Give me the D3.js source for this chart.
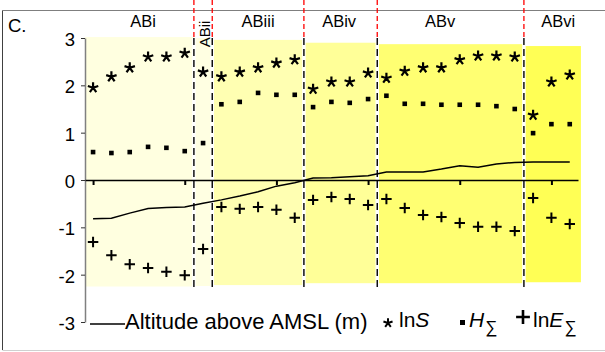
<!DOCTYPE html>
<html><head><meta charset="utf-8">
<script src="https://cdn.jsdelivr.net/npm/d3@7"></script>
<style>body{margin:0;background:#fff}svg{display:block}text{font-family:"Liberation Sans",Arial,sans-serif}</style>
</head><body><svg id="c" width="605" height="352"></svg>
<script>
// ---------- data ----------
const regionNames = ["ABi","ABii","ABiii","ABiv","ABv","ABvi"];
const regionStart = [0, 6, 7, 12, 16, 24];
const regionEnd   = [5, 6, 11, 15, 23, 26];
const regionTop    = [3.02, 3.00, 2.96, 2.90, 2.87, 2.83];
const regionBottom = [-2.25, -2.24, -2.22, -2.18, -2.18, -2.16];
const sampleIndex = d3.range(27);
const lnS = [1.95,2.18,2.37,2.60,2.60,2.68, 2.28, 2.18,2.28,2.37,2.47,2.54, 1.92,2.07,2.07,2.26, 2.15,2.30,2.37,2.37,2.54,2.62,2.62,2.60, 1.37,2.07,2.22];
const H   = [0.59,0.57,0.59,0.70,0.68,0.61, 0.78, 1.60,1.65,1.84,1.80,1.80, 1.54,1.65,1.63,1.71, 1.78,1.61,1.61,1.59,1.59,1.59,1.56,1.50, 0.99,1.18,1.18];
const lnE = [-1.31,-1.59,-1.78,-1.86,-1.94,-2.01, -1.46, -0.57,-0.61,-0.57,-0.63,-0.80, -0.42,-0.36,-0.40,-0.53, -0.40,-0.59,-0.74,-0.78,-0.91,-0.99,-0.99,-1.08, -0.38,-0.80,-0.93];
const altitude = [-0.82,-0.81,-0.70,-0.60,-0.58,-0.57, -0.49, -0.42,-0.34,-0.25,-0.13,-0.06, 0.04,0.05,0.07,0.09, 0.17,0.17,0.17,0.23,0.30,0.27,0.34,0.37, 0.38,0.38,0.38];
const yTicks = [-3,-2,-1,0,1,2,3];
const xTicks = [0,5,10,15,20,25];

// ---------- styles / layout ----------
const regionColor = ["#FFFFE0","#FFFFE2","#FFFFB2","#FFFF98","#FFFF72","#FFFF55"];
const labelIdx = [2.73, 6.1, 9.0, 13.42, 18.93, 25.37];
const font = '"Liberation Sans",Arial,sans-serif';

const svg = d3.select("#c");
const x = d3.scaleLinear().domain([-0.44, 26.45]).range([85, 578]);
const y = d3.scaleLinear().domain([-3, 3]).range([322, 38]);
const lastRight = 26.61;

// frame
svg.append("line").attr("x1",2.5).attr("x2",605).attr("y1",10.5).attr("y2",10.5).attr("stroke","#7f7f7f");
svg.append("line").attr("x1",2.5).attr("x2",2.5).attr("y1",10.5).attr("y2",350).attr("stroke","#404040");
svg.append("line").attr("x1",2.5).attr("x2",605).attr("y1",350.5).attr("y2",350.5).attr("stroke","#d0d0d0");

// region backgrounds
const bounds = regionNames.map((n,i) => ({
  name: n, i,
  left: i === 0 ? x.domain()[0] : (regionEnd[i-1] + regionStart[i]) / 2,
  right: i === regionNames.length-1 ? lastRight : (regionEnd[i] + regionStart[i+1]) / 2,
  top: regionTop[i], bottom: regionBottom[i]
}));
svg.append("g").selectAll("rect").data(bounds).join("rect")
  .attr("x", d => x(d.left)).attr("width", d => x(d.right) - x(d.left))
  .attr("y", d => y(d.top)).attr("height", d => y(d.bottom) - y(d.top))
  .attr("fill", (d) => regionColor[d.i]);

// separators
const seps = bounds.slice(1).map(d => d.left);
svg.append("g").selectAll("line").data(seps).join("line")
  .attr("x1", d => x(d)).attr("x2", d => x(d)).attr("y1", 38).attr("y2", 287)
  .attr("stroke", "#fff").attr("stroke-width", 3.5);
svg.append("g").selectAll("line").data(seps).join("line")
  .attr("x1", d => x(d)).attr("x2", d => x(d)).attr("y1", 38).attr("y2", 287)
  .attr("stroke", "#000").attr("stroke-width", 1.4).attr("stroke-dasharray", "7,4");
svg.append("g").selectAll("line").data(seps).join("line")
  .attr("x1", d => x(d)).attr("x2", d => x(d)).attr("y1", 0).attr("y2", 38)
  .attr("stroke", "#ff0000").attr("stroke-width", 1.3).attr("stroke-dasharray", "5,3");

// region labels
svg.append("g").selectAll("text").data(bounds.filter(d => d.name !== "ABii")).join("text")
  .attr("x", d => x(labelIdx[d.i])).attr("y", 27).attr("text-anchor","middle")
  .attr("font-size", 16.5).attr("fill","#000").text(d => d.name);
svg.append("text").attr("transform", `translate(${x(labelIdx[1])+5},34) rotate(-90)`)
  .attr("text-anchor","middle").attr("font-size", 15).text(regionNames[1]);

// panel label
svg.append("text").attr("x", 8).attr("y", 32).attr("font-size", 18.5).text("C.");

// y axis
const gy = svg.append("g").attr("transform","translate(85,0)")
  .call(d3.axisLeft(y).tickValues(yTicks).tickSize(4).tickSizeOuter(0).tickPadding(6).tickFormat(d => String(d)));
gy.select(".domain").attr("stroke","#808080").attr("stroke-width",1.5);
gy.selectAll(".tick line").attr("stroke","#333");
gy.selectAll(".tick text").attr("font-size",18.5).attr("font-family",font).attr("fill","#000").attr("dy","0.4em");

// x axis at zero
const gx = svg.append("g").attr("transform",`translate(0,${y(0)})`)
  .call(d3.axisBottom(x).tickValues(xTicks).tickSize(5).tickSizeOuter(0).tickFormat(""));
gx.select(".domain").attr("stroke","#000").attr("stroke-width",1.3);
gx.selectAll(".tick line").attr("stroke","#000").attr("stroke-width",2);

// altitude line
svg.append("path").datum(sampleIndex)
  .attr("d", d3.line().x(i => x(i)).y(i => y(altitude[i])))
  .attr("fill","none").attr("stroke","#000").attr("stroke-width",1.5);

// custom 5-arm asterisk symbol
const asterisk5 = { draw(ctx, size) {
  const r = Math.sqrt(size) * 0.62;
  for (let k = 0; k < 5; k++) {
    const a = -Math.PI/2 + k * 2*Math.PI/5;
    ctx.moveTo(0,0); ctx.lineTo(r*Math.cos(a), r*Math.sin(a));
  }
}};
const plusSym = { draw(ctx, size) {
  const r = Math.sqrt(size)/2;
  ctx.moveTo(-r,0); ctx.lineTo(r,0); ctx.moveTo(0,-r); ctx.lineTo(0,r);
}};

svg.append("g").selectAll("path").data(sampleIndex).join("path")
  .attr("transform", i => `translate(${x(i)},${y(lnS[i])})`)
  .attr("d", d3.symbol(asterisk5, 78)).attr("stroke","#000").attr("stroke-width",2.2).attr("fill","none");
svg.append("g").selectAll("rect").data(sampleIndex).join("rect")
  .attr("x", i => x(i)-2.3).attr("y", i => y(H[i])-2.3).attr("width",4.6).attr("height",4.6).attr("fill","#000");
svg.append("g").selectAll("path").data(sampleIndex).join("path")
  .attr("transform", i => `translate(${x(i)},${y(lnE[i])})`)
  .attr("d", d3.symbol(plusSym, 110)).attr("stroke","#000").attr("stroke-width",2).attr("fill","none");

// legend
const lg = svg.append("g");
lg.append("line").attr("x1",90).attr("x2",125).attr("y1",324).attr("y2",324).attr("stroke","#000").attr("stroke-width",1.5);
lg.append("text").attr("x",125).attr("y",329).attr("font-size",22).text("Altitude above AMSL (m)");
lg.append("path").attr("transform","translate(388,323)").attr("d", d3.symbol(asterisk5, 60))
  .attr("stroke","#000").attr("stroke-width",2).attr("fill","none");
const t1 = lg.append("text").attr("x",399).attr("y",327).attr("font-size",21);
t1.append("tspan").text("ln"); t1.append("tspan").attr("font-style","italic").text("S");
lg.append("rect").attr("x",460).attr("y",320).attr("width",5).attr("height",5).attr("fill","#000");
const t2 = lg.append("text").attr("x",469).attr("y",327).attr("font-size",21);
t2.append("tspan").attr("font-style","italic").text("H");
t2.append("tspan").attr("font-size",17).attr("dy",6).attr("dx",1).text("\u2211");
lg.append("path").attr("transform","translate(523,317)").attr("d", d3.symbol(plusSym, 190))
  .attr("stroke","#000").attr("stroke-width",2.6).attr("fill","none");
const t3 = lg.append("text").attr("x",533).attr("y",327).attr("font-size",21);
t3.append("tspan").text("ln"); t3.append("tspan").attr("font-style","italic").text("E");
t3.append("tspan").attr("font-size",17).attr("dy",6).attr("dx",1).text("\u2211");
</script></body></html>
